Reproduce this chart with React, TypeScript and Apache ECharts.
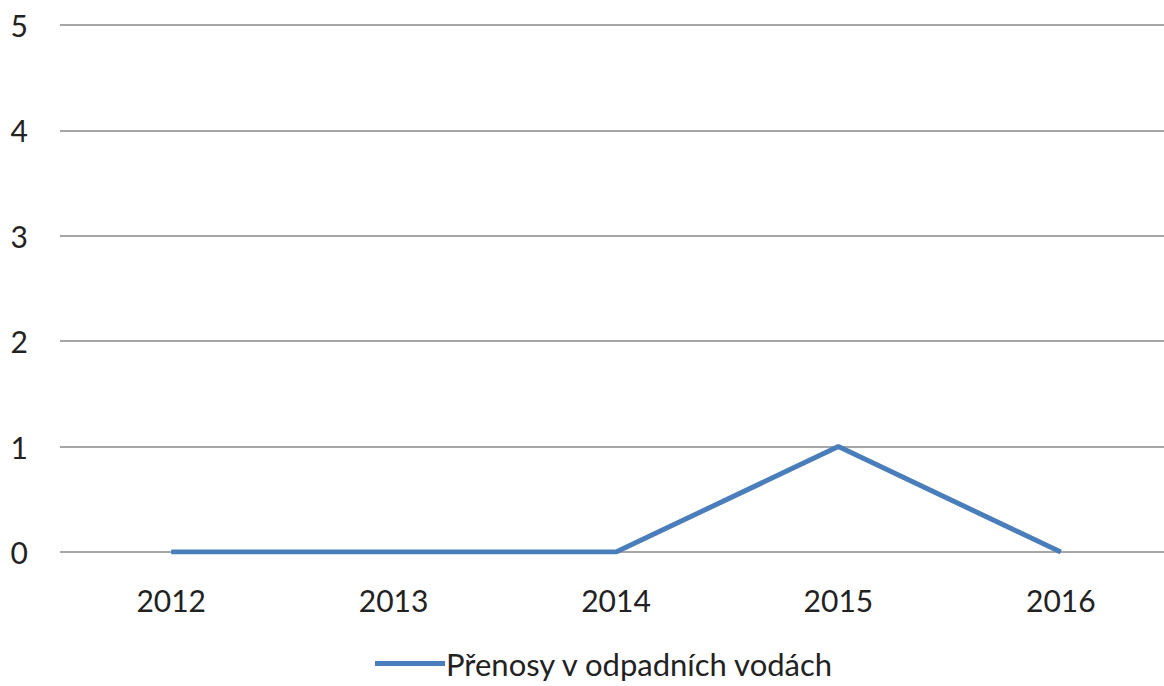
import React, { useEffect, useRef } from "react";
import * as echarts from "echarts";

const categories = ["2012", "2013", "2014", "2015", "2016"];
const seriesName = "Přenosy v odpadních vodách";
const values = [0, 0, 0, 1, 0];
const yTicks = [0, 1, 2, 3, 4, 5];

export default function App() {
  const ref = useRef<HTMLDivElement>(null);
  useEffect(() => {
    if (!ref.current) return;
    const chart = echarts.init(ref.current, undefined, { renderer: "svg" });
    chart.setOption({
      animation: false,
      textStyle: { fontFamily: "Lato" },
      grid: {
        left: 60,
        width: 1112,
        top: 25,
        height: 527,
        containLabel: false,
        outerBoundsMode: "none",
      },
      legend: {
        bottom: 2,
        left: 370,
        itemWidth: 70,
        itemHeight: 5,
        itemGap: 6,
        textStyle: { fontSize: 31, color: "#222", fontFamily: "Lato", padding: [0, 0, 0, -4] },
        data: [{ name: seriesName, icon: "path://M0,0H70V5H0Z" }],
      },
      xAxis: {
        type: "category",
        data: categories,
        boundaryGap: true,
        axisLine: { show: false },
        axisTick: { show: false },
        axisLabel: { fontSize: 30, color: "#222", margin: 33, fontFamily: "Lato" },
      },
      yAxis: {
        type: "value",
        min: yTicks[0],
        max: yTicks[yTicks.length - 1],
        interval: 1,
        axisLine: { show: false },
        axisTick: { show: false },
        axisLabel: { fontSize: 30, color: "#222", margin: 32, fontFamily: "Lato" },
        splitLine: { lineStyle: { color: "#a6a6a6", width: 2 } },
      },
      series: [
        {
          name: seriesName,
          type: "line",
          data: values,
          symbol: "none",
          lineStyle: { color: "#4a7ebb", width: 5 },
          itemStyle: { color: "#4a7ebb" },
        },
      ],
    });
    return () => chart.dispose();
  }, []);
  return (
    <div
      ref={ref}
      style={{ position: "fixed", left: 0, top: 0, width: 1164, height: 686, background: "#fff" }}
    />
  );
}
